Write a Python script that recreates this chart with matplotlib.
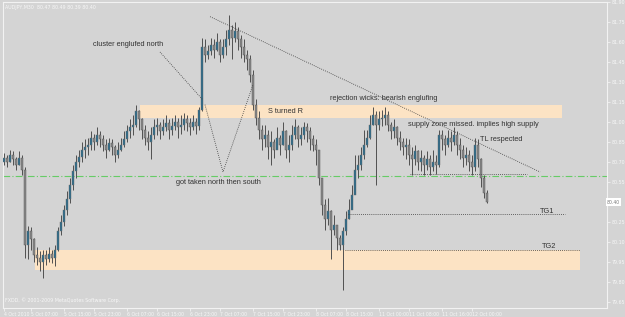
import numpy as np
import matplotlib.pyplot as plt

# AUDJPY M30 bars
closes = [80.73, 80.70, 80.75, 80.72, 80.68, 80.73, 80.64, 80.08, 80.18, 80.12,
          80.00, 79.98, 79.95, 80.00, 79.97, 80.01, 79.98, 80.04, 80.18, 80.25,
          80.34, 80.42, 80.53, 80.63, 80.70, 80.74, 80.79, 80.81, 80.83, 80.88,
          80.85, 80.90, 80.87, 80.83, 80.79, 80.84, 80.81, 80.75, 80.79, 80.83,
          80.87, 80.93, 80.96, 80.98, 81.08, 81.02, 80.94, 80.88, 80.85, 80.90,
          80.96, 80.98, 80.93, 80.96, 80.99, 80.94, 80.97, 81.00, 80.96, 80.98,
          81.02, 80.99, 80.96, 81.00, 80.97, 81.09, 81.56, 81.50, 81.53, 81.58,
          81.54, 81.60, 81.50, 81.56, 81.62, 81.69, 81.63, 81.68, 81.62, 81.56,
          81.50, 81.47, 81.35, 81.13, 81.03, 80.94, 80.87, 80.90, 80.81, 80.85,
          80.79, 80.88, 80.83, 80.93, 80.79, 80.83, 80.90, 80.96, 80.87, 80.90,
          80.96, 80.93, 80.87, 80.83, 80.79, 80.58, 80.38, 80.27, 80.33, 80.19,
          80.23, 80.13, 80.08, 80.18, 80.27, 80.34, 80.45, 80.64, 80.68, 80.75,
          80.83, 80.88, 80.98, 81.05, 80.98, 81.02, 81.03, 81.05, 80.98, 80.93,
          80.96, 80.88, 80.85, 80.81, 80.83, 80.75, 80.72, 80.78, 80.70, 80.73,
          80.68, 80.72, 80.66, 80.70, 80.68, 80.90, 80.87, 80.83, 80.88, 80.85,
          80.90, 80.83, 80.79, 80.73, 80.75, 80.70, 80.66, 80.83, 80.72, 80.58,
          80.47, 80.40]
highs = [80.77, 80.75, 80.79, 80.78, 80.74, 80.78, 80.75, 80.66, 80.22, 80.21,
         80.13, 80.06, 80.03, 80.04, 80.04, 80.06, 80.04, 80.08, 80.21, 80.30,
         80.38, 80.48, 80.58, 80.68, 80.75, 80.79, 80.85, 80.87, 80.88, 80.93,
         80.91, 80.96, 80.93, 80.90, 80.87, 80.88, 80.87, 80.83, 80.85, 80.88,
         80.93, 80.98, 81.02, 81.05, 81.13, 81.09, 81.03, 80.98, 80.93, 80.96,
         81.02, 81.03, 81.00, 81.02, 81.05, 81.02, 81.03, 81.05, 81.03, 81.05,
         81.07, 81.05, 81.03, 81.05, 81.03, 81.11, 81.63, 81.62, 81.58, 81.63,
         81.62, 81.67, 81.62, 81.62, 81.69, 81.80, 81.73, 81.75, 81.71, 81.65,
         81.62, 81.54, 81.50, 81.39, 81.17, 81.08, 80.98, 80.98, 80.94, 80.93,
         80.87, 80.96, 80.90, 81.00, 80.94, 80.90, 80.98, 81.02, 80.98, 80.96,
         81.00, 80.99, 80.96, 80.90, 80.87, 80.79, 80.58, 80.42, 80.43, 80.34,
         80.30, 80.23, 80.15, 80.21, 80.33, 80.42, 80.53, 80.75, 80.75, 80.81,
         80.94, 80.94, 81.05, 81.11, 81.08, 81.08, 81.09, 81.11, 81.08, 81.00,
         81.02, 80.97, 80.93, 80.88, 80.88, 80.87, 80.81, 80.83, 80.79, 80.79,
         80.75, 80.78, 80.75, 80.79, 80.75, 80.94, 80.94, 80.90, 80.94, 80.93,
         80.96, 80.93, 80.88, 80.83, 80.81, 80.79, 80.75, 80.88, 80.87, 80.73,
         80.60, 80.49]
lows = [80.68, 80.66, 80.70, 80.68, 80.64, 80.68, 80.60, 79.98, 79.97, 80.04,
        79.95, 79.93, 79.88, 79.83, 79.93, 79.95, 79.94, 79.92, 80.03, 80.15,
        80.22, 80.30, 80.39, 80.49, 80.58, 80.66, 80.70, 80.73, 80.75, 80.79,
        80.79, 80.83, 80.81, 80.78, 80.73, 80.78, 80.75, 80.70, 80.73, 80.78,
        80.81, 80.85, 80.88, 80.90, 80.96, 80.94, 80.87, 80.83, 80.79, 80.72,
        80.87, 80.90, 80.87, 80.90, 80.93, 80.87, 80.90, 80.94, 80.88, 80.91,
        80.94, 80.93, 80.90, 80.94, 80.91, 80.94, 81.08, 81.45, 81.47, 81.50,
        81.48, 81.53, 81.45, 81.48, 81.50, 81.58, 81.47, 81.60, 81.54, 81.48,
        81.45, 81.39, 81.30, 81.09, 80.98, 80.87, 80.79, 80.81, 80.72, 80.68,
        80.73, 80.81, 80.75, 80.83, 80.73, 80.70, 80.79, 80.87, 80.81, 80.83,
        80.87, 80.85, 80.79, 80.78, 80.68, 80.53, 80.30, 80.19, 80.23, 79.97,
        80.15, 80.04, 80.04, 79.74, 80.15, 80.27, 80.38, 80.57, 80.58, 80.64,
        80.72, 80.81, 80.87, 80.98, 80.53, 80.94, 80.97, 80.98, 80.93, 80.87,
        80.88, 80.83, 80.79, 80.75, 80.72, 80.68, 80.60, 80.68, 80.64, 80.63,
        80.60, 80.64, 80.60, 80.63, 80.61, 80.66, 80.79, 80.75, 80.81, 80.78,
        80.83, 80.75, 80.72, 80.66, 80.68, 80.63, 80.60, 80.63, 80.66, 80.51,
        80.43, 80.39]
first_open = 80.70

time_labels = ['4 Oct 2010', '5 Oct 07:00', '5 Oct 15:00', '5 Oct 23:00', '6 Oct 07:00',
               '6 Oct 15:00', '6 Oct 23:00', '7 Oct 07:00', '7 Oct 15:00', '7 Oct 23:00',
               '8 Oct 07:00', '8 Oct 15:00', '11 Oct 00:00', '11 Oct 08:00', '11 Oct 16:00',
               '12 Oct 00:00']
time_label_bars = [0, 9, 20, 30, 41, 51, 62, 72, 83, 93, 104, 114, 125, 135, 146, 156]

price_ticks = [81.90, 81.75, 81.60, 81.45, 81.30, 81.15, 81.00, 80.85, 80.70, 80.55,
               80.25, 80.10, 79.95, 79.80, 79.65]
last_price = 80.40
sell_line = 80.595

# zones: (first bar, last bar, low, high)
supply_zone = (45.3, 186.0, 81.03, 81.13)
demand_zone = (10.3, 192.0, 79.89, 80.04)

bg = '#d4d4d4'
bull_col = '#2a6a8a'
bear_col = '#8a8a8a'
wick_col = '#505050'
note_col = '#333333'
zone_col = '#fce3c4'

closes = np.array(closes)
highs = np.array(highs)
lows = np.array(lows)
opens = np.r_[first_open, closes[:-1]]
x = np.arange(len(closes))
up = closes >= opens

fig = plt.figure(figsize=(6.25, 3.17), dpi=100, facecolor=bg)
ax = fig.add_axes([3 / 625, 9 / 317, 604 / 625, 306 / 317], facecolor=bg)
ax.set_xlim(-0.33, 201.0)
ax.set_ylim(79.605, 81.90)

# zones behind the candles
for z in (supply_zone, demand_zone):
    ax.fill_between([z[0], z[1]], z[2], z[3], color=zone_col, lw=0, zorder=1)

ax.axhline(sell_line, color='#66cc66', lw=0.8, ls=(0, (6, 2, 1, 2)), zorder=2)

# candles: gray bears with dark rim, thin blue bulls
ax.vlines(x, lows, highs, color=wick_col, lw=0.7, zorder=3)
ax.bar(x[~up], opens[~up] - closes[~up], bottom=closes[~up], width=0.8,
       color=bear_col, edgecolor=wick_col, lw=0.3, zorder=4)
ax.bar(x[up], closes[up] - opens[up], bottom=opens[up], width=0.6,
       color=bull_col, edgecolor='#6a6a6a', lw=0.3, zorder=4)

# hand drawn lines
dot = dict(color='#3c3c3c', lw=0.6, ls=(0, (1, 1.5)), zorder=5)
ax.plot([52, 66.3], [81.525, 81.165], **dot)
ax.plot([67, 73, 83], [81.13, 80.625, 81.28], **dot)
ax.plot([68.7, 178.7], [81.79, 80.625], **dot)
ax.plot([135.3, 174.3], [80.61, 80.61], **dot)
ax.plot([114.7, 187], [80.31, 80.31], **dot)
ax.plot([113.7, 192], [80.04, 80.04], **dot)

fnt = dict(family='Liberation Sans', fontsize=5.3, color=note_col, va='center', ha='left', zorder=6)
ax.text(29.7, 81.58, 'cluster englufed north', **fnt)
ax.text(57.5, 80.55, 'got taken north then south', **fnt)
ax.text(88, 81.08, 'S turned R', **fnt)
ax.text(108.7, 81.18, 'rejection wicks: bearish englufing', **fnt)
ax.text(134.7, 80.98, 'supply zone missed. implies high supply', **fnt)
ax.text(158.7, 80.87, 'TL respected', **fnt)
ax.text(178.7, 80.33, 'TG1', **fnt)
ax.text(179.3, 80.07, 'TG2', **fnt)

# axes in MetaTrader look
for s in ax.spines.values():
    s.set_color('#f2f2f2')
    s.set_linewidth(0.8)
ax.yaxis.tick_right()
ax.set_yticks(price_ticks)
ax.set_yticklabels(['%.2f' % v for v in price_ticks])
ax.tick_params(axis='y', colors='#f7f7f7', labelsize=3.4, length=2, width=0.5, pad=1.5)
ax.set_xticks(time_label_bars)
ax.set_xticklabels(time_labels, ha='left')
ax.tick_params(axis='x', colors='#f7f7f7', labelsize=3.3, length=2, width=0.5, pad=1)

ax.text(1.0, last_price, '%.2f' % last_price, transform=ax.get_yaxis_transform(),
        fontsize=3.3, color='#7a7a7a', va='center', ha='left',
        bbox=dict(boxstyle='square,pad=0.25', fc='white', ec='white', lw=0))

ax.text(0.004, 0.99, 'AUDJPY,M30  80.47 80.49 80.39 80.40', transform=ax.transAxes,
        fontsize=3.4, color='#f7f7f7', va='top', ha='left')
ax.text(0.004, 0.015, 'FXDD, \u00a9 2001-2009 MetaQuotes Software Corp.', transform=ax.transAxes,
        fontsize=3.4, color='#f7f7f7', va='bottom', ha='left')

fig.savefig('out.png', dpi=100, facecolor=bg)
